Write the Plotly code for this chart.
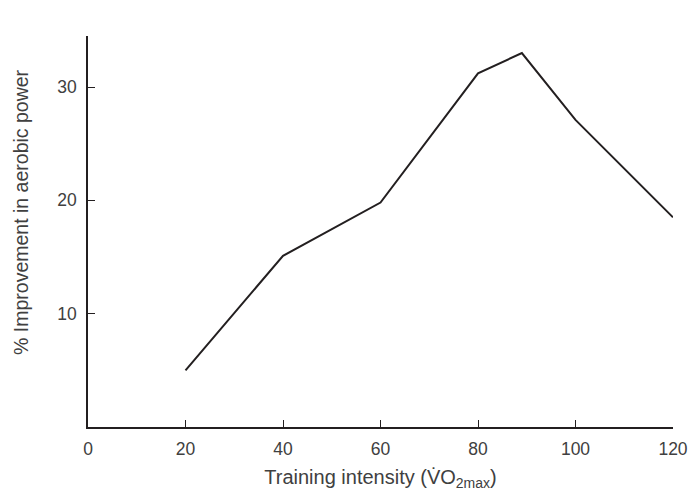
import plotly.graph_objects as go

intensity = [20, 40, 60, 80, 89, 100, 120]
improvement = [5.0, 15.1, 19.8, 31.2, 33.0, 27.1, 18.5]
x_ticks = [0, 20, 40, 60, 80, 100, 120]
y_ticks = [10, 20, 30]

fig = go.Figure()
fig.add_trace(go.Scatter(x=intensity, y=improvement, mode="lines",
                         line=dict(color="#231f20", width=2), showlegend=False))

family = "Liberation Sans, Arial, sans-serif"
font = dict(family=family, size=16.5, color="#404040")
tickfont = dict(family=family, size=17.5, color="#404040")
fig.update_layout(
    width=691, height=494,
    margin=dict(l=88, r=18, t=36, b=67),
    paper_bgcolor="white", plot_bgcolor="white",
    font=font,
    xaxis=dict(range=[0, 120], tickvals=x_ticks, ticks="inside", ticklen=7,
               tickcolor="#231f20", showline=True, linecolor="#231f20", linewidth=1.5,
               showgrid=False, zeroline=False, automargin=False, ticklabelstandoff=5,
               tickfont=tickfont,
               title=dict(text="Training intensity (V\u0307O<sub>2max</sub>)", standoff=12)),
    yaxis=dict(range=[0, 34.5], tickvals=y_ticks, ticks="inside", ticklen=7,
               tickcolor="#231f20", showline=True, linecolor="#231f20", linewidth=1.5,
               showgrid=False, zeroline=False, automargin=False, ticklabelstandoff=6,
               tickfont=tickfont),
    annotations=[dict(text="% Improvement in aerobic power", textangle=-90,
                      xref="paper", yref="paper", x=0, y=0.55, xshift=-67,
                      xanchor="center", yanchor="middle", showarrow=False,
                      font=dict(size=19.5, color="#404040", family=family))],
)
fig.write_html("out.html", config={"displayModeBar": False},
               post_script="document.body.style.margin='0';")
